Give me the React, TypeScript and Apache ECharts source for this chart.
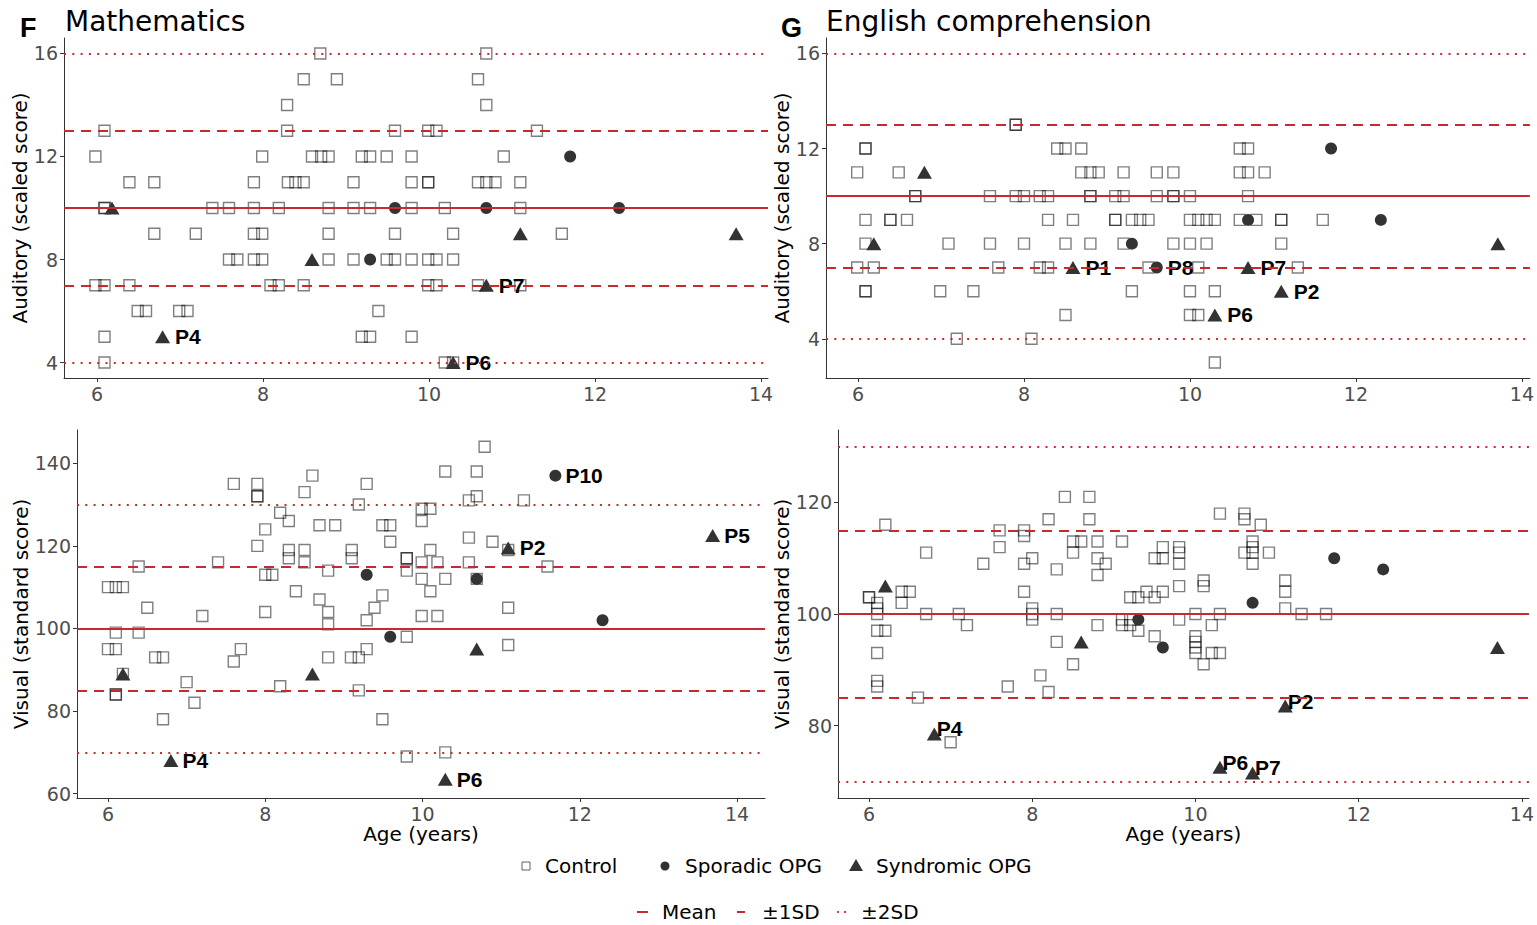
import React, { useEffect, useRef } from "react";
import * as echarts from "echarts";

const FONT = "DejaVu Sans";
const LABEL_FONT = "Liberation Sans";
const RED = "#C8292E";

const AGE_TICKS = [6, 8, 10, 12, 14];
const AUD_TICKS = [4, 8, 12, 16];
const MATH_VIS_TICKS = [60, 80, 100, 120, 140];
const ENG_VIS_TICKS = [80, 100, 120];

const AUD_MEAN = 10;
const AUD_SD = 3;
const VIS_MEAN = 100;
const VIS_SD = 15;

// ---------- Mathematics, auditory (scaled score) ----------
const mathAudControl = [
  [8.69, 16], [10.69, 16],
  [8.49, 15], [8.89, 15], [10.59, 15],
  [8.29, 14], [10.69, 14],
  [6.09, 13], [8.29, 13], [9.59, 13], [9.99, 13], [10.09, 13], [11.3, 13],
  [5.98, 12], [7.99, 12], [8.59, 12], [8.7, 12], [8.79, 12], [9.19, 12], [9.29, 12], [9.49, 12], [9.79, 12], [10.9, 12],
  [6.39, 11], [6.69, 11], [7.89, 11], [8.3, 11], [8.39, 11], [8.49, 11], [9.09, 11], [9.79, 11], [9.99, 11], [9.99, 11], [10.59, 11], [10.69, 11], [10.8, 11], [11.1, 11],
  [6.09, 10], [6.09, 10], [7.39, 10], [7.59, 10], [7.89, 10], [8.19, 10], [8.79, 10], [9.09, 10], [9.29, 10], [9.79, 10], [10.19, 10], [11.1, 10],
  [6.69, 9], [7.19, 9], [7.89, 9], [7.99, 9], [8.79, 9], [9.59, 9], [10.29, 9], [11.6, 9],
  [7.59, 8], [7.69, 8], [7.89, 8], [7.99, 8], [8.79, 8], [9.09, 8], [9.49, 8], [9.59, 8], [9.79, 8], [9.99, 8], [10.09, 8], [10.29, 8],
  [5.98, 7], [6.09, 7], [6.39, 7], [8.09, 7], [8.19, 7], [8.49, 7], [9.99, 7], [10.09, 7], [10.59, 7], [11.1, 7],
  [6.49, 6], [6.59, 6], [6.99, 6], [7.09, 6], [9.39, 6],
  [6.09, 5], [9.19, 5], [9.29, 5], [9.79, 5],
  [6.09, 4], [10.19, 4], [10.29, 4],
];
const mathAudSporadic: [number, number, string][] = [
  [9.29, 8, ""], [9.59, 10, ""], [10.69, 10, ""], [11.7, 12, ""], [12.29, 10, ""],
];
const mathAudSyndromic: [number, number, string][] = [
  [6.18, 10, ""], [6.79, 5, "P4"], [8.59, 8, ""], [10.29, 4, "P6"], [10.69, 7, "P7"], [11.1, 9, ""], [13.7, 9, ""],
];

// ---------- Mathematics, visual (standard score) ----------
const mathVisControl = [
  [8.6, 137], [7.6, 135], [7.9, 135], [9.29, 135], [8.5, 133], [7.9, 132], [7.9, 132], [9.19, 130], [8.19, 128], [8.3, 126],
  [8.69, 125], [8.89, 125], [9.49, 125], [9.59, 125], [8.0, 124], [9.59, 121], [7.9, 120], [8.3, 119], [8.3, 117],
  [8.5, 119], [8.5, 116], [9.1, 119], [9.1, 117], [7.4, 116], [6.39, 115], [8.8, 114], [8.0, 113], [8.09, 113],
  [8.39, 109], [9.49, 108], [8.69, 107], [6.5, 105], [9.39, 105], [8.8, 104], [8.0, 104], [7.2, 103], [9.29, 102],
  [8.8, 101], [6.1, 99], [6.39, 99], [9.8, 98], [6.0, 95], [6.1, 95], [7.69, 95], [9.29, 95], [6.6, 93], [6.7, 93],
  [8.8, 93], [9.09, 93], [9.19, 93], [7.6, 92], [6.19, 89], [7.0, 87], [8.19, 86], [9.19, 85], [6.1, 84], [6.1, 84],
  [7.1, 82], [6.7, 78], [9.49, 78], [9.8, 69], [6.0, 110], [6.1, 110], [6.19, 110], [9.8, 117], [9.8, 117], [9.8, 114],
  [10.79, 144], [10.29, 138], [10.69, 138], [10.69, 132], [10.59, 131], [11.29, 131], [9.99, 129], [10.1, 129],
  [9.99, 126], [10.59, 122], [10.89, 121], [11.09, 119], [10.1, 119], [9.99, 116], [10.19, 116], [10.59, 116],
  [11.59, 115], [9.99, 112], [10.29, 112], [10.69, 112], [10.1, 109], [11.09, 105], [9.99, 103], [10.19, 103],
  [11.09, 96], [10.29, 70],
];
const mathVisSporadic: [number, number, string][] = [
  [9.29, 113, ""], [9.59, 98, ""], [10.69, 112, ""], [11.69, 137, "P10"], [12.29, 102, ""],
];
const mathVisSyndromic: [number, number, string][] = [
  [6.19, 89, ""], [6.8, 68, "P4"], [8.6, 89, ""], [10.29, 63.5, "P6"], [10.69, 95, ""], [11.09, 119.5, "P2"], [13.69, 122.5, "P5"],
];

// ---------- English comprehension, auditory (scaled score) ----------
const engAudControl = [
  [7.9, 13], [7.9, 13],
  [6.09, 12], [6.09, 12], [8.4, 12], [8.5, 12], [8.69, 12], [10.6, 12], [10.7, 12],
  [5.99, 11], [6.49, 11], [8.69, 11], [8.8, 11], [8.9, 11], [9.2, 11], [9.6, 11], [9.8, 11], [10.6, 11], [10.7, 11], [10.9, 11],
  [6.69, 10], [6.69, 10], [7.59, 10], [7.9, 10], [8.0, 10], [8.19, 10], [8.29, 10], [8.8, 10], [8.8, 10], [9.1, 10], [9.2, 10], [9.6, 10], [9.8, 10], [9.8, 10], [10.0, 10], [10.7, 10],
  [6.09, 9], [6.39, 9], [6.39, 9], [6.59, 9], [8.29, 9], [8.59, 9], [9.1, 9], [9.1, 9], [9.3, 9], [9.4, 9], [9.5, 9], [10.0, 9], [10.1, 9], [10.2, 9], [10.3, 9], [10.6, 9], [10.8, 9], [11.1, 9], [11.1, 9], [11.6, 9],
  [6.09, 8], [7.09, 8], [7.59, 8], [8.0, 8], [8.5, 8], [8.8, 8], [9.2, 8], [9.8, 8], [10.0, 8], [10.2, 8], [11.1, 8],
  [5.99, 7], [6.19, 7], [7.69, 7], [8.19, 7], [8.29, 7], [9.5, 7], [10.1, 7], [11.3, 7],
  [6.09, 6], [6.09, 6], [6.99, 6], [7.39, 6], [9.3, 6], [10.0, 6], [10.3, 6],
  [8.5, 5], [10.0, 5], [10.1, 5],
  [7.19, 4], [8.09, 4],
  [10.3, 3],
];
const engAudSporadic: [number, number, string][] = [
  [9.3, 8, ""], [9.6, 7, "P8"], [10.7, 9, ""], [11.7, 12, ""], [12.3, 9, ""],
];
const engAudSyndromic: [number, number, string][] = [
  [6.19, 8, ""], [6.8, 11, ""], [8.59, 7, "P1"], [10.3, 5, "P6"], [10.7, 7, "P7"], [11.1, 6, "P2"], [13.71, 8, ""],
];

// ---------- English comprehension, visual (standard score) ----------
const engVisControl = [
  [8.4, 121], [8.7, 121], [8.2, 117], [8.7, 117], [6.2, 116], [7.6, 115], [7.9, 115], [7.9, 114], [8.5, 113], [8.6, 113],
  [8.8, 113], [9.1, 113], [7.6, 112], [6.7, 111], [8.5, 111], [8.8, 110], [8.0, 110], [9.5, 110], [9.6, 110], [9.6, 112],
  [9.8, 112], [9.8, 111], [9.8, 109], [7.4, 109], [7.9, 109], [8.9, 109], [8.8, 107], [8.3, 108], [9.8, 105], [7.9, 104],
  [6.5, 104], [9.4, 104], [9.6, 104], [6.0, 103], [6.0, 103], [9.2, 103], [9.3, 103], [9.5, 103], [6.1, 102], [6.4, 104],
  [6.4, 102], [6.1, 101], [6.1, 100], [6.7, 100], [7.1, 100], [8.3, 100], [8.0, 101], [8.0, 100], [8.0, 99], [9.8, 99],
  [7.2, 98], [8.8, 98], [9.1, 99], [9.1, 98], [9.2, 99], [9.2, 98], [6.1, 97], [6.2, 97], [9.3, 97], [9.5, 96], [8.3, 95],
  [6.1, 93], [8.5, 91], [8.1, 89], [6.1, 88], [6.1, 87], [7.7, 87], [8.2, 86], [6.6, 85], [7.0, 77],
  [10.3, 118], [10.6, 118], [10.6, 117], [10.8, 116], [10.7, 113], [10.6, 111], [10.7, 111], [10.7, 112], [10.9, 111],
  [10.7, 109], [10.1, 106], [10.1, 105], [11.1, 106], [11.1, 104], [11.1, 101], [10.0, 100], [10.3, 100], [11.3, 100],
  [11.6, 100], [10.2, 98], [10.0, 96], [10.0, 95], [10.0, 94], [10.0, 93], [10.2, 93], [10.3, 93], [10.1, 91],
];
const engVisSporadic: [number, number, string][] = [
  [9.3, 99, ""], [9.6, 94, ""], [10.7, 102, ""], [11.7, 110, ""], [12.3, 108, ""],
];
const engVisSyndromic: [number, number, string][] = [
  [6.2, 105, ""], [6.8, 78.5, "P4"], [8.6, 95, ""], [10.3, 72.5, "P6"], [10.7, 71.5, "P7"], [11.1, 83.5, "P2"], [13.7, 94, ""],
];

const PANELS = [
  {
    grid: { left: 64, top: 38, width: 704, height: 340 },
    x: [5.602, 14.084], y: [3.4, 16.6], yTicks: AUD_TICKS,
    yName: "Auditory (scaled score)", yGap: 28, xName: "",
    control: mathAudControl, sporadic: mathAudSporadic, syndromic: mathAudSyndromic,
    mean: AUD_MEAN, sd: AUD_SD, labelOffset: [0, 0], labelDist: 5,
  },
  {
    grid: { left: 77, top: 430, width: 688, height: 368 },
    x: [5.606, 14.356], y: [58.95, 148.05], yTicks: MATH_VIS_TICKS,
    yName: "Visual (standard score)", yGap: 41, xName: "Age (years)",
    control: mathVisControl, sporadic: mathVisSporadic, syndromic: mathVisSyndromic,
    mean: VIS_MEAN, sd: VIS_SD, labelOffset: [0, 0], labelDist: 4,
  },
  {
    grid: { left: 826, top: 38, width: 704, height: 340 },
    x: [5.614, 14.096], y: [2.35, 16.65], yTicks: AUD_TICKS,
    yName: "Auditory (scaled score)", yGap: 28, xName: "",
    control: engAudControl, sporadic: engAudSporadic, syndromic: engAudSyndromic,
    mean: AUD_MEAN, sd: AUD_SD, labelOffset: [0, 0], labelDist: 5,
  },
  {
    grid: { left: 838, top: 430, width: 691, height: 368 },
    x: [5.62, 14.086], y: [67, 133], yTicks: ENG_VIS_TICKS,
    yName: "Visual (standard score)", yGap: 41, xName: "Age (years)",
    control: engVisControl, sporadic: engVisSporadic, syndromic: engVisSyndromic,
    mean: VIS_MEAN, sd: VIS_SD, labelOffset: [-9, -5], labelDist: 4,
  },
];

function buildOption() {
  const grids: any[] = [];
  const xAxes: any[] = [];
  const yAxes: any[] = [];
  const series: any[] = [];
  const tickText = { fontSize: 19, color: "#4d4d4d", fontFamily: FONT };
  const nameText = { fontSize: 20, color: "#000", fontFamily: FONT };
  const axisLine = { show: true, lineStyle: { color: "#333", width: 1 } };

  PANELS.forEach((p, i) => {
    grids.push({ ...p.grid, containLabel: false });
    xAxes.push({
      gridIndex: i, type: "value", min: p.x[0], max: p.x[1],
      axisLine, splitLine: { show: false },
      axisTick: { show: true, length: 4, customValues: AGE_TICKS, lineStyle: { color: "#333" } },
      axisLabel: { customValues: AGE_TICKS, margin: 6, ...tickText },
      name: p.xName, nameLocation: "middle", nameGap: 22, nameTextStyle: nameText,
    });
    yAxes.push({
      gridIndex: i, type: "value", min: p.y[0], max: p.y[1],
      axisLine, splitLine: { show: false },
      axisTick: { show: true, length: 4, customValues: p.yTicks, lineStyle: { color: "#333" } },
      axisLabel: { customValues: p.yTicks, margin: 6, ...tickText },
      name: p.yName, nameLocation: "middle", nameRotate: 90, nameGap: p.yGap, nameTextStyle: nameText,
    });
    const ml = (v: number, type: any, width: number) => ({ yAxis: v, lineStyle: { type, width, color: RED } });
    series.push({
      name: "Control", type: "scatter", xAxisIndex: i, yAxisIndex: i,
      symbol: "rect", symbolSize: 11,
      itemStyle: { color: "rgba(0,0,0,0)", borderColor: "rgba(0,0,0,0.5)", borderWidth: 1.4, opacity: 1 },
      data: p.control,
      markLine: {
        silent: true, symbol: "none", label: { show: false }, animation: false,
        data: [
          ml(p.mean, "solid", 2),
          ml(p.mean - p.sd, [10, 7], 2),
          ml(p.mean + p.sd, [10, 7], 2),
          ml(p.mean - 2 * p.sd, [2, 6.3], 2),
          ml(p.mean + 2 * p.sd, [2, 6.3], 2),
        ],
      },
      z: 2,
    });
    const label = {
      show: true, position: "right", distance: p.labelDist, offset: p.labelOffset,
      formatter: "{b}", fontFamily: LABEL_FONT, fontWeight: "bold", fontSize: 21, color: "#000",
    };
    const toItems = (arr: [number, number, string][]) =>
      arr.map(([a, s, n]) => ({ value: [a, s], name: n, label: { ...label, show: n !== "" } }));
    series.push({
      name: "Sporadic OPG", type: "scatter", xAxisIndex: i, yAxisIndex: i,
      symbol: "circle", symbolSize: 12, itemStyle: { color: "#333", opacity: 1 },
      data: toItems(p.sporadic), z: 3,
    });
    series.push({
      name: "Syndromic OPG", type: "scatter", xAxisIndex: i, yAxisIndex: i,
      symbol: "triangle", symbolSize: [15, 13], itemStyle: { color: "#333", opacity: 1 },
      data: toItems(p.syndromic), z: 3,
    });
  });

  const txt = (x: number, y: number, text: string, extra: any = {}) => ({
    type: "text", x, y,
    style: { text, fill: "#000", fontFamily: FONT, fontSize: 20, verticalAlign: "middle", align: "left", ...extra },
  });

  const graphic = [
    txt(20, 28, "F", { fontSize: 27, fontWeight: "bold", fontFamily: LABEL_FONT }),
    txt(65, 21, "Mathematics", { fontSize: 28 }),
    txt(781, 28, "G", { fontSize: 27, fontWeight: "bold", fontFamily: LABEL_FONT }),
    txt(826, 21, "English comprehension", { fontSize: 28 }),
    // legend row 1
    { type: "rect", shape: { x: 522, y: 862, width: 8, height: 8 }, style: { fill: "none", stroke: "rgba(0,0,0,0.6)", lineWidth: 1 } },
    txt(545, 866, "Control"),
    { type: "circle", shape: { cx: 665, cy: 866, r: 4.5 }, style: { fill: "#333" } },
    txt(685, 866, "Sporadic OPG"),
    { type: "polygon", shape: { points: [[856, 859], [863, 871], [849, 871]] }, style: { fill: "#333" } },
    txt(876, 866, "Syndromic OPG"),
    // legend row 2
    { type: "line", shape: { x1: 637, y1: 912, x2: 648, y2: 912 }, style: { stroke: RED, lineWidth: 2 } },
    txt(662, 912, "Mean"),
    { type: "line", shape: { x1: 737, y1: 912, x2: 745, y2: 912 }, style: { stroke: RED, lineWidth: 2 } },
    txt(762, 912, "±1SD"),
    { type: "circle", shape: { cx: 838, cy: 912, r: 1.1 }, style: { fill: RED } },
    { type: "circle", shape: { cx: 845, cy: 912, r: 1.1 }, style: { fill: RED } },
    txt(861, 912, "±2SD"),
  ];

  return {
    animation: false,
    backgroundColor: "#fff",
    grid: grids,
    xAxis: xAxes,
    yAxis: yAxes,
    series,
    graphic,
  };
}

export default function App() {
  const ref = useRef<HTMLDivElement>(null);
  useEffect(() => {
    const chart = echarts.init(ref.current!, null, { renderer: "svg" });
    chart.setOption(buildOption() as any);
    return () => chart.dispose();
  }, []);
  return (
    <div
      ref={ref}
      style={{ position: "fixed", left: 0, top: 0, width: 1537, height: 925, background: "#fff" }}
    />
  );
}
